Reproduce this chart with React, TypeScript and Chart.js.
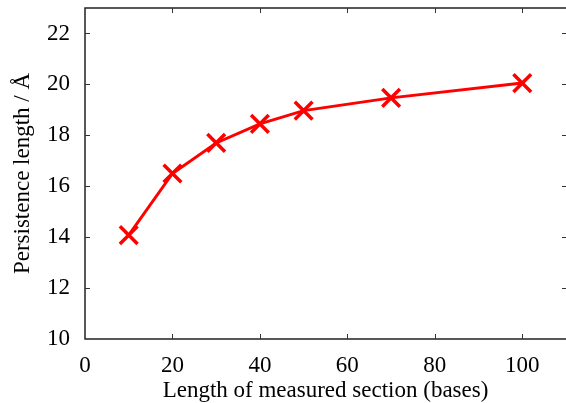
import React, { useEffect, useRef } from "react";
import { Chart, registerables } from "chart.js";

Chart.register(...registerables);

const sectionLengths = [10, 20, 30, 40, 50, 70, 100];
const persistence = [14.08, 16.5, 17.7, 18.45, 18.97, 19.47, 20.05];
const xTicks = [0, 20, 40, 60, 80, 100];
const yTicks = [10, 12, 14, 16, 18, 20, 22];

const FONT = "'Liberation Serif', 'Times New Roman', serif";

const frameTicks = {
  id: "frameTicks",
  afterDraw(chart: any) {
    const { ctx, chartArea: a, scales } = chart;
    ctx.save();
    ctx.strokeStyle = "#222";
    ctx.lineWidth = 1.5;
    ctx.beginPath();
    ctx.moveTo(a.right + 3, a.top);
    ctx.lineTo(a.left, a.top);
    ctx.lineTo(a.left, a.bottom);
    ctx.lineTo(a.right + 3, a.bottom);
    ctx.stroke();
    ctx.lineWidth = 1;
    ctx.strokeStyle = "#333";
    const L = 5;
    ctx.beginPath();
    for (const v of xTicks) {
      const px = Math.round(scales.x.getPixelForValue(v)) + 0.5;
      if (v === 0) continue;
      ctx.moveTo(px, a.bottom);
      ctx.lineTo(px, a.bottom - L);
      ctx.moveTo(px, a.top);
      ctx.lineTo(px, a.top + L);
    }
    for (const v of yTicks) {
      const py = Math.round(scales.y.getPixelForValue(v)) + 0.5;
      if (v === 10) continue;
      ctx.moveTo(a.left, py);
      ctx.lineTo(a.left + L, py);
      ctx.moveTo(a.right + 1, py);
      ctx.lineTo(a.right + 1 - L, py);
    }
    ctx.stroke();
    ctx.restore();
  },
};

const zeroPad = (s: any) => {
  s.paddingTop = 0;
  s.paddingBottom = 0;
  s.paddingLeft = 0;
  s.paddingRight = 0;
};

export default function App() {
  const ref = useRef<HTMLCanvasElement>(null);
  useEffect(() => {
    document.body.style.margin = "0";
    const chart = new Chart(ref.current!, {
      type: "line",
      data: {
        datasets: [
          {
            data: sectionLengths.map((x, i) => ({ x, y: persistence[i] })),
            borderColor: "#ff0000",
            backgroundColor: "#ff0000",
            borderWidth: 3,
            pointStyle: "crossRot",
            pointRadius: 12.5,
            pointBorderWidth: 3.5,
            pointBorderColor: "#ff0000",
            tension: 0,
          },
        ],
      },
      options: {
        animation: false,
        responsive: false,
        maintainAspectRatio: false,
        layout: { autoPadding: false, padding: { top: 8, right: 0, left: 0, bottom: 0 } },
        plugins: { legend: { display: false }, tooltip: { enabled: false } },
        scales: {
          x: {
            type: "linear",
            min: 0,
            max: 110,
            afterFit: (s: any) => {
              s.height = 64;
              zeroPad(s);
            },
            afterBuildTicks: (s: any) => {
              s.ticks = xTicks.map((v) => ({ value: v }));
            },
            grid: { display: false, drawTicks: false },
            border: { display: false },
            ticks: {
              color: "#000",
              font: { family: FONT, size: 23 },
              padding: 13,
              maxRotation: 0,
            },
            title: {
              display: true,
              text: "Length of measured section (bases)",
              color: "#000",
              font: { family: FONT, size: 23 },
              padding: { top: 0, bottom: -2 },
            },
          },
          y: {
            type: "linear",
            min: 10,
            max: 23,
            afterFit: (s: any) => {
              s.width = 85;
              zeroPad(s);
            },
            afterBuildTicks: (s: any) => {
              s.ticks = yTicks.map((v) => ({ value: v }));
            },
            grid: { display: false, drawTicks: false },
            border: { display: false },
            ticks: {
              color: "#000",
              font: { family: FONT, size: 23 },
              padding: 15,
            },
            title: {
              display: true,
              text: "Persistence length / Å",
              color: "#000",
              font: { family: FONT, size: 23 },
              padding: { top: 9, bottom: 0 },
            },
          },
        },
      },
      plugins: [frameTicks],
    });
    return () => chart.destroy();
  }, []);
  return (
    <div style={{ position: "absolute", left: 0, top: 0, width: 566, height: 403, background: "#fff" }}>
      <canvas ref={ref} width={566} height={403} style={{ display: "block" }} />
    </div>
  );
}
